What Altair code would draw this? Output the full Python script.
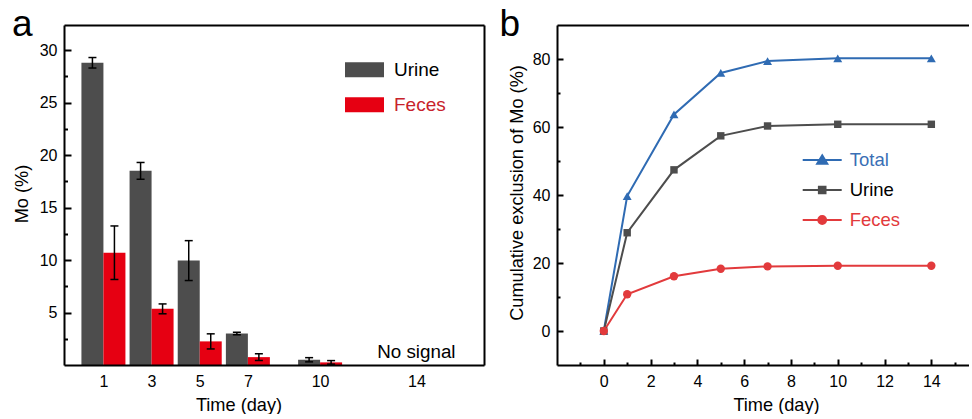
import altair as alt
import pandas as pd

# ---------------- data ----------------
# panel a : Mo excreted per collection interval (%), mean and error
days_a = [1, 3, 5, 7, 10]
urine_pct = [28.8, 18.5, 9.95, 3.0, 0.5]
urine_err = [0.5, 0.8, 1.9, 0.12, 0.2]
feces_pct = [10.7, 5.35, 2.25, 0.75, 0.25]
feces_err = [2.55, 0.47, 0.72, 0.32, 0.17]
nosignal_day = [14]
nosignal_label = ["No signal"]
xticks_a = [1, 3, 5, 7, 10, 14]
yticks_a = [5, 10, 15, 20, 25, 30]
yminor_a = [2.5, 7.5, 12.5, 17.5, 22.5, 27.5]

# panel b : cumulative exclusion of Mo (%)
days_b = [0, 1, 3, 5, 7, 10, 14]
total_cum = [0, 39.7, 63.7, 75.9, 79.4, 80.2, 80.2]
urine_cum = [0, 28.9, 47.4, 57.4, 60.3, 60.8, 60.8]
feces_cum = [0, 10.8, 16.1, 18.3, 19.0, 19.2, 19.2]
series_b = ["Total", "Urine", "Feces"]
xticks_b = [0, 2, 4, 6, 8, 10, 12, 14]
xminor_b = [-1, 1, 3, 5, 7, 9, 11, 13, 15]
yticks_b = [0, 20, 40, 60, 80]
yminor_b = [10, 30, 50, 70]

# ---------------- style ----------------
FONT = "Liberation Sans"
W_A, W_B, H = 420, 412, 340
GRAY = "#4d4d4d"
RED = "#e60012"
C_TOTAL, C_URINE, C_FECES = "#2f6bb3", "#4d4d4d", "#e23a3c"
TITLE_FS = 18.2

rows = []
for d, v, e in zip(days_a, urine_pct, urine_err):
    rows.append(dict(day=d, series="Urine", pct=v, lo=v - e, hi=v + e))
for d, v, e in zip(days_a, feces_pct, feces_err):
    rows.append(dict(day=d, series="Feces", pct=v, lo=v - e, hi=v + e))
df_a = pd.DataFrame(rows)
df_ns = pd.DataFrame({"day": nosignal_day, "label": nosignal_label})
rows = []
for name, vals in zip(series_b, [total_cum, urine_cum, feces_cum]):
    for d, v in zip(days_b, vals):
        rows.append(dict(day=d, series=name, cum=v))
df_b = pd.DataFrame(rows)

xs_a = alt.Scale(domain=[-0.43, 16.6], nice=False, zero=False)
ys_a = alt.Scale(domain=[0, 32.4], nice=False, zero=False)
xs_b = alt.Scale(domain=[-2, 15.61], nice=False, zero=False)
ys_b = alt.Scale(domain=[-10, 90], nice=False, zero=False)


def main_x(values, title, tx):
    return alt.Axis(orient="bottom", values=values, title=title, titleX=tx, titleY=45.6,
                    titleBaseline="alphabetic", titleAlign="center", titleFontSize=TITLE_FS,
                    ticks=False, tickSize=0, labelPadding=8, labelFlush=False,
                    labelOverlap=False, domain=True, domainWidth=2, domainColor="black",
                    zindex=1, grid=False)


def main_y(values, title, tx, ty):
    return alt.Axis(orient="left", values=values, title=title, titleX=tx, titleY=ty,
                    titleAngle=-90, titleBaseline="alphabetic", titleAlign="center",
                    titleFontSize=TITLE_FS, ticks=False, tickSize=0, labelPadding=7,
                    labelFlush=False, labelOverlap=False, domain=True, domainWidth=2,
                    domainColor="black", zindex=1, grid=False)


def inward_ticks(orient, values, size):
    # negative tick length (as an expression) draws the ticks inside the frame
    return alt.Axis(orient=orient, values=values, ticks=True,
                    tickSize=alt.ExprRef(expr=str(-size)), tickWidth=2, tickColor="black",
                    labels=False, domain=False, title=None, grid=False, minExtent=0,
                    zindex=2)


frame_top = alt.Axis(orient="top", ticks=False, labels=False, domain=True, domainWidth=2,
                     domainColor="black", title=None, grid=False, minExtent=0, zindex=1)
frame_right = alt.Axis(orient="right", ticks=False, labels=False, domain=True, domainWidth=2,
                       domainColor="black", title=None, grid=False, minExtent=0, zindex=1)

# ---------------- panel a ----------------
color_a = alt.Scale(domain=["Urine", "Feces"], range=[GRAY, RED])
legend_a = alt.Legend(
    orient="none", legendX=281, legendY=25.3, title=None, padding=0,
    symbolType="M-1,-0.385H1V0.385H-1Z", symbolSize=1521, symbolStrokeWidth=0,
    symbolOpacity=1, labelFont=FONT, labelFontSize=19, labelOffset=10, rowPadding=5,
    labelColor=alt.ExprRef(expr="datum.label == 'Feces' ? '#c8222b' : 'black'"),
)
base_a = alt.Chart(df_a)
urine_a = base_a.transform_filter(alt.datum.series == "Urine")
feces_a = base_a.transform_filter(alt.datum.series == "Feces")

bars_u = urine_a.mark_bar(width=22, xOffset=-11).encode(
    x=alt.X("day:Q", scale=xs_a, axis=main_x(xticks_a, "Time (day)", 174.5)),
    y=alt.Y("pct:Q", scale=ys_a, axis=main_y(yticks_a, "Mo (%)", -37, 168.5)),
    color=alt.Color("series:N", scale=color_a, legend=legend_a),
)
bars_f = feces_a.mark_bar(width=22, xOffset=11, color=RED).encode(
    x=alt.X("day:Q", scale=xs_a, axis=None),
    y=alt.Y("pct:Q", scale=ys_a, axis=None),
)


def err_layers(src, dx):
    rule = src.mark_rule(color="black", strokeWidth=1.5, xOffset=dx).encode(
        x=alt.X("day:Q", scale=xs_a, axis=None),
        y=alt.Y("lo:Q", scale=ys_a, axis=None),
        y2="hi:Q",
    )
    caps = src.transform_fold(["lo", "hi"], as_=["end", "yv"]).mark_tick(
        color="black", orient="horizontal", size=8, thickness=1.5, opacity=1, xOffset=dx
    ).encode(
        x=alt.X("day:Q", scale=xs_a, axis=None),
        y=alt.Y("yv:Q", scale=ys_a, axis=None),
    )
    return [rule, caps]


nosig = alt.Chart(df_ns).mark_text(font=FONT, fontSize=18.8, color="black",
                                   align="center", baseline="alphabetic").encode(
    x=alt.X("day:Q", scale=xs_a, axis=None),
    y=alt.value(332.5),
    text="label:N",
)
letter_a = alt.Chart(pd.DataFrame({"t": ["a"]})).mark_text(
    font=FONT, fontSize=37, color="black", align="left", baseline="alphabetic"
).encode(x=alt.value(-52), y=alt.value(11), text="t:N")

dummy_a = base_a.mark_point(opacity=0)
ticks_a_major = dummy_a.encode(
    x=alt.X("day:Q", scale=xs_a, axis=None),
    y=alt.Y("pct:Q", scale=ys_a, axis=inward_ticks("left", yticks_a, 7)),
)
ticks_a_minor = dummy_a.encode(
    x=alt.X("day:Q", scale=xs_a, axis=None),
    y=alt.Y("pct:Q", scale=ys_a, axis=inward_ticks("left", yminor_a, 3.5)),
)
frame_a = dummy_a.encode(
    x=alt.X("day:Q", scale=xs_a, axis=frame_top),
    y=alt.Y("pct:Q", scale=ys_a, axis=frame_right),
)

panel_a = alt.layer(
    bars_u, bars_f, *err_layers(urine_a, -11), *err_layers(feces_a, 11),
    nosig, letter_a, ticks_a_major, ticks_a_minor, frame_a,
).resolve_axis(x="independent", y="independent").properties(width=W_A, height=H)

# ---------------- panel b ----------------
color_b = alt.Scale(domain=series_b, range=[C_TOTAL, C_URINE, C_FECES])
tri = "M-1,0H1M0,-0.24L0.26,0.19L-0.26,0.19Z"
sq = "M-1,0H1M-0.17,-0.17H0.17V0.17H-0.17Z"
circ = "M-1,0H1M-0.2,0A0.2,0.2,0,1,1,0.2,0A0.2,0.2,0,1,1,-0.2,0Z"
legend_b = alt.Legend(
    orient="none", legendX=244.7, legendY=114.5, title=None, padding=0,
    symbolType=alt.ExprRef(expr=f"datum.value == 'Total' ? '{tri}' : datum.value == 'Urine' ? '{sq}' : '{circ}'"),
    symbolSize=1521, symbolStrokeWidth=2, symbolOpacity=1,
    symbolStrokeColor=alt.ExprRef(expr=f"datum.value == 'Total' ? '{C_TOTAL}' : datum.value == 'Urine' ? '{C_URINE}' : '{C_FECES}'"),
    labelFont=FONT, labelFontSize=18.5, labelOffset=7, rowPadding=alt.ExprRef(expr="-1"),
    labelColor=alt.ExprRef(expr=f"datum.label == 'Total' ? '#3a6fb5' : datum.label == 'Feces' ? '{C_FECES}' : 'black'"),
)

base_b = alt.Chart(df_b)
shapes_b = {"Total": "triangle-up", "Urine": "square", "Feces": "circle"}
colors_b = {"Total": C_TOTAL, "Urine": C_URINE, "Feces": C_FECES}
sizes_b = {"Total": 80, "Urine": 55, "Feces": 70}

series_layers = []
for i, name in enumerate(series_b):
    src = base_b.transform_filter(alt.datum.series == name)
    if i == 0:
        xa = main_x(xticks_b, "Time (day)", 219)
        ya = main_y(yticks_b, "Cumulative exclusion of Mo (%)", -35, 167.5)
    else:
        xa, ya = None, None
    series_layers.append(src.mark_line(strokeWidth=2, color=colors_b[name]).encode(
        x=alt.X("day:Q", scale=xs_b, axis=xa),
        y=alt.Y("cum:Q", scale=ys_b, axis=ya),
    ))
for name in series_b:
    src = base_b.transform_filter(alt.datum.series == name)
    series_layers.append(src.mark_point(filled=True, opacity=1, shape=shapes_b[name],
                                        size=sizes_b[name], color=colors_b[name]).encode(
        x=alt.X("day:Q", scale=xs_b, axis=None),
        y=alt.Y("cum:Q", scale=ys_b, axis=None),
    ))

legend_layer = base_b.mark_point(filled=True, opacity=0).encode(
    x=alt.X("day:Q", scale=xs_b, axis=None),
    y=alt.Y("cum:Q", scale=ys_b, axis=None),
    color=alt.Color("series:N", scale=color_b, legend=legend_b),
)
letter_b = alt.Chart(pd.DataFrame({"t": ["b"]})).mark_text(
    font=FONT, fontSize=37, color="black", align="left", baseline="alphabetic"
).encode(x=alt.value(-57.5), y=alt.value(10.5), text="t:N")

dummy_b = base_b.mark_point(opacity=0)
ticks_b_major = dummy_b.encode(
    x=alt.X("day:Q", scale=xs_b, axis=inward_ticks("bottom", xticks_b, 6)),
    y=alt.Y("cum:Q", scale=ys_b, axis=inward_ticks("left", yticks_b, 6)),
)
ticks_b_minor = dummy_b.encode(
    x=alt.X("day:Q", scale=xs_b, axis=inward_ticks("bottom", xminor_b, 3)),
    y=alt.Y("cum:Q", scale=ys_b, axis=inward_ticks("left", yminor_b, 3)),
)
frame_b = dummy_b.encode(
    x=alt.X("day:Q", scale=xs_b, axis=frame_top),
    y=alt.Y("cum:Q", scale=ys_b, axis=None),
)

panel_b = alt.layer(
    *series_layers, legend_layer, letter_b, ticks_b_major, ticks_b_minor, frame_b,
).resolve_axis(x="independent", y="independent").properties(width=W_B, height=H)

chart = alt.hconcat(panel_a, panel_b, spacing=73, bounds="flush").resolve_scale(
    color="independent"
).properties(
    padding={"left": 12, "top": 5, "right": 0, "bottom": 0},
    background="white",
).configure(font=FONT).configure_view(stroke=None).configure_axis(
    labelFont=FONT, titleFont=FONT, labelFontSize=16, titleFontSize=TITLE_FS,
    titleFontWeight="normal", labelColor="black", titleColor="black",
)

chart.save("out.html", embed_options={"renderer": "svg", "actions": False})
